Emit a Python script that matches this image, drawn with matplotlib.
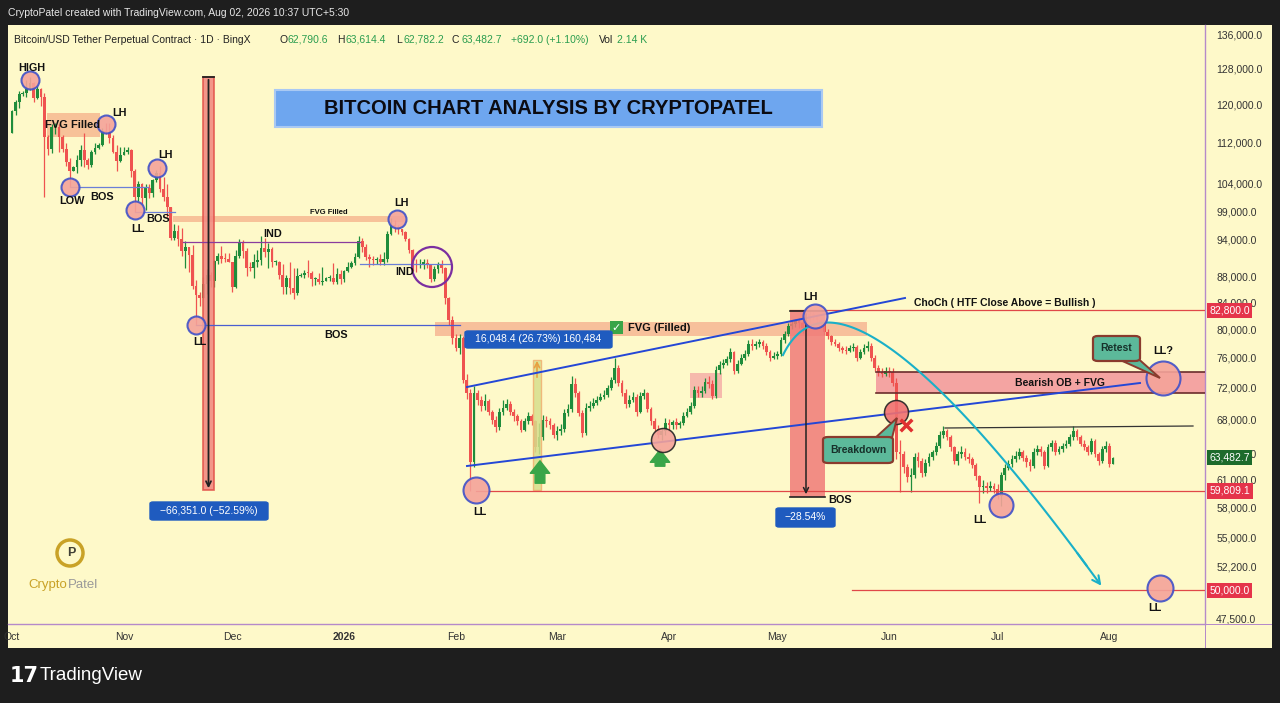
import numpy as np
import pandas as pd
import matplotlib
matplotlib.use('Agg')
import matplotlib.pyplot as plt
from matplotlib.patches import Rectangle, FancyBboxPatch, Polygon

plt.rcParams['font.family'] = ['Liberation Sans', 'DejaVu Sans']

# ---- data (BTC daily, values in thousands of USD) ----
dates = pd.date_range('2025-10-01', '2026-08-02', freq='D')
first_open_k = 114.0

close_k = [
    # Oct
    118.6, 120.6, 122.3, 122.4, 123.5, 124.8, 121.5, 123.3, 121.7, 113.2, 110.7, 115.2, 115.3, 113.1, 110.8, 108.2,
    106.5, 107.2, 108.6, 110.6, 108.5, 107.6, 110.1, 111.0, 111.6, 114.5, 114.1, 112.9, 110.1, 108.3, 109.6,
    # Nov
    110.1, 110.6, 106.5, 101.5, 103.9, 101.3, 103.3, 102.3, 104.7, 106.0, 103.0, 101.6, 99.7, 94.4, 95.5,
    94.2, 92.2, 92.9, 91.5, 86.6, 85.1, 84.7, 86.8, 88.3, 87.3, 90.5, 91.3, 90.9, 90.8, 90.4,
    # Dec
    86.3, 91.3, 93.5, 92.1, 89.4, 89.3, 90.4, 90.6, 92.7, 92.0, 92.5, 90.3, 90.3, 88.2, 86.4, 87.8,
    86.2, 85.5, 88.1, 88.3, 88.6, 88.5, 87.6, 87.6, 87.2, 87.3, 87.8, 87.8, 87.1, 88.4, 87.6,
    # Jan
    88.9, 89.6, 90.2, 91.1, 93.8, 92.9, 91.2, 90.9, 90.6, 90.9, 90.4, 90.9, 95.1, 96.6, 96.3, 95.9,
    95.4, 94.2, 92.3, 90.1, 89.8, 90.1, 90.2, 89.8, 87.6, 89.2, 89.8, 89.4, 84.6, 81.4, 78.8,
    # Feb
    77.4, 78.8, 73.0, 71.4, 63.0, 71.4, 70.5, 69.7, 70.3, 68.9, 68.0, 67.1, 68.9, 69.5,
    69.9, 68.9, 68.5, 67.9, 66.8, 67.8, 68.5, 67.8, 64.7, 65.9, 68.0, 67.8, 67.4, 66.1,
    # Mar
    66.6, 66.9, 68.8, 69.3, 72.5, 71.3, 68.8, 66.4, 69.5, 69.7, 70.1, 70.5, 70.9, 71.1, 72.0, 73.0,
    74.7, 72.7, 71.4, 70.0, 70.5, 70.8, 69.0, 71.0, 71.3, 69.3, 67.8, 66.9, 66.1, 66.6, 67.6,
    # Apr
    67.3, 67.7, 67.3, 67.6, 68.5, 69.0, 69.7, 71.8, 71.4, 71.6, 72.8, 72.5, 71.0, 74.4, 75.0,
    75.3, 75.8, 76.8, 74.3, 75.2, 76.0, 76.6, 78.0, 77.7, 78.0, 78.2, 77.7, 76.8, 76.0, 76.3,
    # May
    76.6, 78.5, 79.3, 80.5, 80.8, 81.2, 80.9, 80.2, 81.4, 82.3, 82.0, 81.4, 80.8, 79.6, 79.0, 78.2,
    78.0, 77.4, 77.1, 77.0, 77.4, 77.5, 76.0, 76.8, 77.4, 77.7, 76.0, 74.7, 74.1, 73.8, 74.3,
    # Jun
    74.1, 72.6, 64.1, 63.9, 62.4, 61.3, 61.5, 63.6, 63.1, 61.8, 62.9, 63.6, 64.1, 64.9, 66.2,
    66.6, 65.9, 64.7, 63.1, 63.9, 64.2, 63.6, 63.4, 62.7, 61.4, 60.2, 60.3, 60.1, 60.3, 60.0,
    # Jul
    59.3, 61.5, 62.3, 62.8, 63.4, 63.7, 64.2, 63.5, 63.0, 62.6, 64.2, 64.5, 64.1, 62.6, 64.7, 65.2,
    64.2, 64.5, 64.8, 65.1, 65.9, 66.6, 65.9, 65.1, 64.7, 64.2, 65.4, 63.9, 63.1, 64.5, 64.9,
    # Aug
    62.7906, 63.4827,
]

high_k = [
    118.9, 121.0, 122.9, 122.9, 125.3, 126.2, 124.9, 124.0, 123.7, 122.5, 113.5, 115.8, 116.0, 115.9, 113.6, 111.9,
    109.0, 107.5, 109.5, 111.6, 114.0, 109.0, 110.5, 112.0, 111.9, 115.0, 116.1, 116.0, 113.6, 111.6, 111.1,
    111.2, 111.2, 110.8, 106.8, 104.5, 104.2, 104.0, 103.9, 105.0, 106.6, 107.5, 105.3, 104.0, 99.8, 96.8,
    96.6, 96.0, 93.8, 92.9, 93.1, 87.5, 85.6, 88.0, 89.2, 88.8, 90.6, 91.9, 93.0, 91.9, 91.9,
    90.4, 92.3, 94.1, 94.0, 92.7, 90.3, 91.7, 92.3, 94.6, 94.4, 93.5, 92.8, 90.6, 90.5, 90.0, 88.2,
    90.3, 89.4, 89.4, 88.6, 89.1, 90.6, 88.9, 88.0, 88.5, 89.5, 88.0, 88.2, 90.2, 89.3, 89.1,
    89.0, 90.3, 90.5, 91.8, 94.6, 94.3, 93.3, 91.7, 91.4, 91.2, 91.6, 92.0, 95.6, 97.8, 97.4, 96.6,
    95.9, 95.6, 94.3, 92.5, 90.9, 90.9, 90.8, 90.9, 89.9, 89.7, 90.4, 90.6, 89.6, 84.9, 81.9,
    79.4, 79.3, 79.0, 73.8, 71.9, 72.2, 71.8, 71.0, 71.2, 70.6, 69.2, 68.4, 69.4, 70.4,
    70.6, 70.3, 69.3, 68.7, 68.1, 68.2, 69.0, 68.7, 68.0, 67.6, 68.6, 68.5, 68.2, 67.6,
    67.2, 67.5, 69.3, 70.0, 73.6, 73.3, 71.6, 69.2, 70.1, 70.3, 70.7, 71.0, 71.3, 71.7, 72.4, 73.4,
    76.0, 75.0, 73.0, 71.9, 71.1, 71.5, 71.2, 71.5, 71.9, 71.5, 69.6, 68.2, 67.4, 67.0, 68.2,
    68.1, 68.0, 68.2, 67.9, 68.9, 69.4, 70.2, 72.3, 72.3, 72.2, 73.3, 73.6, 73.0, 74.9, 75.6,
    75.9, 76.3, 77.4, 77.0, 75.7, 76.5, 77.1, 78.5, 78.6, 78.3, 78.7, 78.5, 78.1, 77.1, 76.8,
    77.0, 78.9, 79.8, 80.9, 81.4, 81.6, 81.7, 81.2, 81.8, 82.8, 82.6, 82.3, 81.6, 81.0, 80.0, 79.2,
    78.6, 78.2, 77.7, 77.6, 77.8, 78.1, 77.8, 77.2, 77.9, 78.3, 78.1, 76.4, 75.0, 74.6, 74.8,
    74.8, 74.6, 73.3, 65.5, 64.3, 62.8, 62.3, 64.0, 64.2, 63.5, 63.3, 64.0, 64.4, 65.3, 66.6,
    67.2, 66.9, 66.2, 64.9, 64.3, 64.9, 64.6, 64.0, 63.6, 62.9, 61.6, 61.0, 60.8, 60.9, 60.7,
    60.6, 61.9, 62.8, 63.2, 63.8, 64.3, 64.6, 64.4, 63.8, 63.3, 64.6, 65.0, 64.8, 64.4, 65.1, 65.6,
    65.6, 64.9, 65.2, 65.5, 66.3, 67.2, 66.9, 66.2, 65.5, 65.0, 65.8, 65.7, 64.2, 64.9, 65.4,
    65.2, 63.6144,
]

low_k = [
    113.9, 117.7, 119.3, 121.9, 121.6, 123.1, 120.6, 121.1, 119.6, 101.5, 109.6, 110.0, 113.8, 110.2, 110.2, 107.5,
    103.5, 106.4, 106.1, 107.5, 107.3, 106.9, 107.3, 109.7, 110.7, 111.3, 113.8, 112.0, 109.9, 106.4, 108.2,
    109.5, 109.8, 105.3, 98.9, 100.8, 100.3, 99.3, 101.4, 101.5, 104.3, 102.5, 100.8, 98.0, 94.0, 94.0,
    93.0, 91.3, 89.3, 88.7, 86.1, 80.6, 83.5, 84.7, 85.3, 86.3, 86.3, 90.1, 90.2, 90.3, 90.3,
    85.6, 86.2, 91.0, 91.0, 88.1, 88.9, 87.7, 89.6, 89.9, 91.1, 89.3, 89.5, 89.8, 87.6, 85.3, 85.3,
    85.3, 84.5, 85.1, 88.0, 87.7, 87.9, 86.6, 86.7, 86.9, 86.7, 87.4, 87.3, 86.9, 86.8, 86.9,
    87.2, 88.7, 89.4, 89.9, 91.0, 92.0, 90.6, 89.6, 89.9, 90.1, 89.8, 89.9, 90.4, 94.8, 95.4, 95.1,
    94.9, 93.8, 91.9, 88.9, 88.7, 89.3, 89.2, 89.3, 87.1, 87.3, 88.5, 88.6, 83.8, 80.6, 77.9,
    76.9, 76.6, 72.6, 70.6, 59.8, 62.5, 69.8, 69.1, 69.2, 68.6, 67.5, 66.5, 66.7, 68.6,
    69.2, 68.6, 67.9, 67.4, 66.5, 66.6, 67.5, 67.3, 64.1, 63.9, 65.6, 67.1, 66.9, 65.8,
    65.6, 66.2, 66.5, 68.4, 68.9, 70.8, 68.4, 65.9, 66.1, 69.1, 69.4, 69.8, 70.3, 70.6, 70.8, 71.8,
    72.7, 72.3, 71.0, 69.5, 69.6, 70.2, 68.5, 68.8, 70.6, 69.0, 67.3, 66.4, 65.8, 65.6, 66.2,
    66.6, 66.9, 66.9, 67.0, 67.4, 68.3, 68.7, 69.4, 70.8, 70.9, 71.3, 72.0, 70.6, 70.7, 73.9,
    74.6, 75.0, 75.4, 73.8, 74.0, 75.0, 75.7, 76.3, 77.1, 77.2, 77.5, 77.3, 76.4, 75.6, 75.8,
    75.9, 76.3, 78.1, 79.0, 80.1, 80.4, 80.2, 79.5, 79.8, 80.9, 81.4, 81.0, 80.3, 79.2, 78.6, 77.8,
    77.6, 77.0, 76.7, 76.6, 76.8, 77.0, 75.6, 75.8, 76.5, 77.0, 75.6, 74.2, 73.6, 73.4, 73.6,
    73.5, 72.2, 63.4, 59.7, 61.8, 60.8, 59.7, 61.2, 62.5, 61.3, 61.4, 62.6, 63.2, 63.8, 64.6,
    65.8, 65.6, 64.3, 62.8, 62.7, 63.5, 63.2, 62.9, 62.3, 61.0, 58.5, 59.6, 59.6, 59.8, 59.6,
    58.9, 58.2, 61.0, 62.1, 62.5, 63.0, 63.4, 63.1, 62.5, 62.0, 62.3, 63.8, 63.7, 62.2, 62.4, 64.3,
    63.8, 63.9, 64.2, 64.6, 64.8, 65.5, 65.6, 64.8, 64.4, 63.8, 63.9, 63.6, 62.7, 62.9, 64.1,
    62.5, 62.7822,
]

month_starts = ['2025-10-01', '2025-11-01', '2025-12-01', '2026-01-01', '2026-02-01', '2026-03-01',
                '2026-04-01', '2026-05-01', '2026-06-01', '2026-07-01', '2026-08-01']
month_labels = ['Oct', 'Nov', 'Dec', '2026', 'Feb', 'Mar', 'Apr', 'May', 'Jun', 'Jul', 'Aug']
price_ticks = [136000, 128000, 120000, 112000, 104000, 99000, 94000, 88000, 84000, 80000,
               76000, 72000, 68000, 64000, 61000, 58000, 55000, 52200, 47500]
level_lines = {'82,800.0': 82800, '59,809.1': 59809.1, '50,000.0': 50000}

GREEN = '#1f8c3b'
RED = '#ef5350'
BG = '#fef9c9'
DARK = '#1e1e1e'
BLUE = '#2447d6'

W, H = 1280, 703


# reference pixel -> data helpers for placing the drawings
def X(px):
    return (px - 12) / 3.61


def Y(py):
    return 136000 * np.exp(-(py - 35) / 555)


fig = plt.figure(figsize=(12.8, 7.03), dpi=100)
fig.patch.set_facecolor(DARK)


def frect(x0, y0, x1, y1, **kw):
    fig.add_artist(Rectangle((x0 / W, 1 - y1 / H), (x1 - x0) / W, (y1 - y0) / H,
                             transform=fig.transFigure, **kw))


def fbox(x0, y0, x1, y1, fc, ec, lw=1, pad=3, z=20):
    fig.add_artist(FancyBboxPatch((x0 / W, 1 - y1 / H), (x1 - x0) / W, (y1 - y0) / H,
                                  boxstyle=f'round,pad=0,rounding_size={pad / W}',
                                  transform=fig.transFigure, fc=fc, ec=ec, lw=lw, zorder=z))


def ftext(x, y, s, **kw):
    fig.text(x / W, 1 - y / H, s, **kw)


# chart panel
frect(8, 25, 1272, 648, fc=BG, ec='none', zorder=0)

ax = fig.add_axes([8 / W, 1 - 624 / H, (1205 - 8) / W, (624 - 25) / H])
ax.set_facecolor(BG)
ax.set_yscale('log')
ax.set_ylim(Y(624), Y(25))
ax.set_xlim(X(8), X(1205))

# candles
closes = np.array(close_k) * 1000
highs = np.array(high_k) * 1000
lows = np.array(low_k) * 1000
opens = np.concatenate([[first_open_k * 1000], closes[:-1]])
highs = np.maximum(highs, np.maximum(opens, closes))
lows = np.minimum(lows, np.minimum(opens, closes))
idx = np.arange(len(closes))
col = np.where(closes >= opens, GREEN, RED)
ax.vlines(idx, lows, highs, colors=col, lw=0.9, zorder=3)
body_lo = np.minimum(opens, closes)
body_h = np.maximum(np.abs(closes - opens), closes * 0.002)
ax.bar(idx, body_h, bottom=body_lo, width=0.76, color=col, zorder=3)

# axes styling
ax.yaxis.tick_right()
ax.set_yticks(price_ticks)
ax.set_yticklabels([f'{p:,.1f}' for p in price_ticks])
ax.yaxis.set_minor_locator(matplotlib.ticker.NullLocator())
ax.tick_params(axis='y', length=0, pad=8, labelsize=7.5, labelcolor='#333333')
tick_pos = [dates.get_loc(pd.Timestamp(m)) for m in month_starts]
ax.set_xticks(tick_pos)
ax.set_xticklabels(month_labels)
ax.tick_params(axis='x', length=0, pad=6, labelsize=7.5, labelcolor='#333333')
ax.get_xticklabels()[3].set_fontweight('bold')
for s in ['top', 'left']:
    ax.spines[s].set_visible(False)
for s in ['right', 'bottom']:
    ax.spines[s].set_color('#b58ac9')
    ax.spines[s].set_linewidth(1)
frect(1204.5, 624, 1205.5, 648, fc='#b58ac9', ec='none', zorder=5)
frect(1205, 623.5, 1272, 624.5, fc='#b58ac9', ec='none', zorder=5)


def circ(px, py, r, fc='#f4a39a', ec='#3f51c9', lw=1.5, alpha=0.9, z=7):
    ax.scatter([X(px)], [Y(py)], s=(2 * r * 0.72) ** 2, fc=fc, ec=ec, lw=lw, alpha=alpha, zorder=z)


def lbl(px, py, s, fs=7.5, **kw):
    ax.text(X(px), Y(py), s, ha='center', va='center', fontsize=fs, fontweight='bold',
            color='#111111', zorder=9, **kw)


def hline(y, x0, x1, **kw):
    ax.plot([X(x0), X(x1)], [Y(y), Y(y)], **kw)


def band(x0, x1, y0, y1, **kw):
    ax.add_patch(Rectangle((X(x0), Y(y1)), X(x1) - X(x0), Y(y0) - Y(y1), **kw))


# zones / bands
band(47, 100, 113, 137, fc='#f5b08a', ec='none', alpha=0.75, zorder=2)
band(173, 405, 216, 222, fc='#f5b08a', ec='none', alpha=0.75, zorder=2)
band(435, 867, 322, 336, fc='#f5ad8c', ec='none', alpha=0.75, zorder=2)
band(690, 722, 373, 398, fc='#f4a0a0', ec='none', alpha=0.7, zorder=2)
band(876, 1205, 372, 393, fc='#f4a0a0', ec='none', alpha=0.95, zorder=2)
hline(372, 876, 1205, color='#6b2c2c', lw=1.2, zorder=4)
hline(393, 876, 1205, color='#6b2c2c', lw=1.2, zorder=4)

# measure bar Oct high -> Feb low
band(203, 214, 77, 490, fc='#f28b82', ec='#e3534b', lw=1.2, alpha=0.9, zorder=4)
ax.annotate('', xy=(X(208.5), Y(491)), xytext=(X(208.5), Y(77)),
            arrowprops=dict(arrowstyle='->', color='#222222', lw=1.3, mutation_scale=9), zorder=5)
hline(77, 203, 214, color='#222222', lw=1.3, zorder=5)

# measure bar Feb bounce
band(533, 541, 360, 490, fc='#d6df8c', ec='#f0b070', lw=1, alpha=0.85, zorder=4)
ax.annotate('', xy=(X(537), Y(358)), xytext=(X(537), Y(380)),
            arrowprops=dict(arrowstyle='->', color='#e8a040', lw=1.2, mutation_scale=9), zorder=5)

# May -> Jun drop box
band(790, 825, 311, 497, fc='#f07a78', ec='none', alpha=0.85, zorder=4)
hline(311, 790, 825, color='#222222', lw=1.2, zorder=5)
hline(497, 790, 825, color='#222222', lw=1.2, zorder=5)
ax.annotate('', xy=(X(806), Y(497)), xytext=(X(806), Y(311)),
            arrowprops=dict(arrowstyle='->', color='#222222', lw=1.1, mutation_scale=9), zorder=6)

# structure lines
hline(187, 70, 148, color='#6b7fd7', lw=0.9, zorder=4)
hline(212, 135, 175, color='#6b7fd7', lw=0.9, zorder=4)
hline(242, 183, 360, color='#8a3c9e', lw=0.9, zorder=4)
hline(264, 360, 450, color='#6b7fd7', lw=0.9, zorder=4)
hline(325, 196, 460, color='#4a5fd0', lw=0.9, zorder=4)
for name, lvl in level_lines.items():
    x0 = {'82,800.0': 790, '59,809.1': 476, '50,000.0': 852}[name]
    ax.plot([X(x0), X(1205)], [lvl, lvl], color='#e04848', lw=0.9, zorder=4)
ax.plot([X(945), X(1193)], [Y(428), Y(426)], color='#333333', lw=0.9, zorder=4)

# channel
ax.plot([X(467), X(905)], [Y(387), Y(298)], color=BLUE, lw=1.4, zorder=5)
ax.plot([X(467), X(1140)], [Y(466), Y(383)], color=BLUE, lw=1.4, zorder=5)

# projected path (cyan)
t = np.linspace(0, 1, 120)
bx = (1 - t) ** 3 * 783 + 3 * (1 - t) ** 2 * t * 810 + 3 * (1 - t) * t ** 2 * 880 + t ** 3 * 1103
by = (1 - t) ** 3 * 355 + 3 * (1 - t) ** 2 * t * 300 + 3 * (1 - t) * t ** 2 * 280 + t ** 3 * 588
ax.plot(X(bx[:-3]), Y(by[:-3]), color='#1ab0c8', lw=1.5, zorder=6)
ax.annotate('', xy=(X(bx[-1]), Y(by[-1])), xytext=(X(bx[-6]), Y(by[-6])),
            arrowprops=dict(arrowstyle='->', color='#1ab0c8', lw=1.5, mutation_scale=14), zorder=6)

# green arrows
for tip, base in [((540, 458), (540, 486)), ((660, 447), (660, 469))]:
    ax.annotate('', xy=(X(tip[0]), Y(tip[1])), xytext=(X(base[0]), Y(base[1])),
                arrowprops=dict(arrowstyle='simple,head_width=1.4,head_length=0.9,tail_width=0.7',
                                color='#3aa548', mutation_scale=10), zorder=7)

# circles
for px, py, r in [(30, 80, 9), (106, 124, 9), (70, 187, 9), (157, 168, 9), (135, 210, 9),
                  (196, 325, 9), (397, 219, 9), (476, 490, 13), (815, 316, 12), (1001, 505, 12),
                  (1160, 588, 13), (1163, 378, 17)]:
    circ(px, py, r)
circ(663, 440, 12, fc='#f4a39a', ec='#222222', lw=1.1)
circ(896, 412, 12, fc='#f07070', ec='#222222', lw=1.1)
ax.scatter([X(432)], [Y(267)], s=(40 * 0.72) ** 2, fc='none', ec='#7b2fa0', lw=1.6, zorder=7)
ax.scatter([X(906)], [Y(425)], s=70, marker='x', color='#e03030', lw=2.5, zorder=8)

# labels
for px, py, s in [(32, 68, 'HIGH'), (119, 113, 'LH'), (72, 201, 'LOW'), (102, 197, 'BOS'),
                  (165, 155, 'LH'), (138, 229, 'LL'), (158, 219, 'BOS'), (273, 234, 'IND'),
                  (200, 342, 'LL'), (336, 335, 'BOS'), (401, 203, 'LH'), (405, 272, 'IND'),
                  (480, 512, 'LL'), (810, 297, 'LH'), (840, 500, 'BOS'), (980, 520, 'LL'),
                  (1155, 608, 'LL'), (1163, 351, 'LL?')]:
    lbl(px, py, s, fs=7.8)
lbl(73, 125, 'FVG Filled', fs=8)
lbl(329, 213, 'FVG Filled', fs=5.5)
lbl(1005, 303, 'ChoCh ( HTF Close Above = Bullish )', fs=7.5)
lbl(1060, 383, 'Bearish OB + FVG', fs=7.5)

# check label for FVG band
frect(610, 321, 623, 334, fc='#3aa548', ec='none', zorder=20)
ftext(616.5, 328, '\u2713', ha='center', va='center', color='white', fontsize=8,
      fontweight='bold', family='DejaVu Sans', zorder=21)
ftext(628, 328, 'FVG (Filled)', ha='left', va='center', color='#111111', fontsize=8,
      fontweight='bold', zorder=21)

# measure labels
fbox(465, 331, 612, 348, fc='#1f5bbf', ec='#1f5bbf', pad=3)
ftext(538.5, 339.5, '16,048.4 (26.73%) 160,484', ha='center', va='center', color='white',
      fontsize=7.5, zorder=21)
fbox(150, 502, 268, 520, fc='#1f5bbf', ec='#1f5bbf', pad=3)
ftext(209, 511, '\u221266,351.0 (\u221252.59%)', ha='center', va='center', color='white',
      fontsize=7.5, zorder=21)
fbox(776, 508, 835, 527, fc='#1f5bbf', ec='#1f5bbf', pad=3)
ftext(805.5, 517.5, '\u221228.54%', ha='center', va='center', color='white', fontsize=7.5, zorder=21)

# speech bubbles
fig.add_artist(Polygon([(1118 / W, 1 - 359 / H), (1134 / W, 1 - 355 / H), (1160 / W, 1 - 378 / H)],
                       closed=True, transform=fig.transFigure, fc='#5cb99a', ec='#8a3b2e', lw=1.4, zorder=19))
fbox(1093, 336, 1140, 361, fc='#5cb99a', ec='#8a3b2e', lw=1.6, pad=5)
ftext(1116.5, 348.5, 'Retest', ha='center', va='center', color='#17302a', fontsize=7.5,
      fontweight='bold', zorder=21)
fig.add_artist(Polygon([(874 / W, 1 - 439 / H), (890 / W, 1 - 446 / H), (897 / W, 1 - 418 / H)],
                       closed=True, transform=fig.transFigure, fc='#5cb99a', ec='#8a3b2e', lw=1.4, zorder=19))
fbox(823, 437, 893, 463, fc='#5cb99a', ec='#8a3b2e', lw=1.6, pad=5)
ftext(858, 450, 'Breakdown', ha='center', va='center', color='#17302a', fontsize=7.5,
      fontweight='bold', zorder=21)

# title box
frect(275, 90, 822, 127, fc='#6ea6ef', ec='#a9c9f3', lw=1.5, zorder=20)
ftext(548.5, 109, 'BITCOIN CHART ANALYSIS BY CRYPTOPATEL', ha='center', va='center',
      fontsize=14.5, fontweight='bold', color='#0b0b12', zorder=21)

# price tags on the axis
tags = [(82800, '82,800.0', '#e5344a'), (closes[-1], f'{closes[-1]:,.1f}', '#1d6b2c'),
        (59809.1, '59,809.1', '#e5344a'), (50000, '50,000.0', '#e5344a')]
for p, s, c in tags:
    ax.text(1.0035, p, s, transform=ax.get_yaxis_transform(), ha='left', va='center',
            fontsize=7.5, color='white', zorder=30, clip_on=False,
            bbox=dict(boxstyle='square,pad=0.25', fc=c, ec='none'))

# header line
hdr_dark = '#222222'
hdr_green = '#2a9d4f'
ftext(14, 40, 'Bitcoin/USD Tether Perpetual Contract \u00b7 1D \u00b7 BingX', ha='left', va='center',
      fontsize=7.5, color=hdr_dark)
for x, s, c in [(279, 'O', hdr_dark), (288, '62,790.6', hdr_green), (337, 'H', hdr_dark),
                (346, '63,614.4', hdr_green), (396, 'L', hdr_dark), (403, '62,782.2', hdr_green),
                (452, 'C', hdr_dark), (461, '63,482.7', hdr_green), (511, '+692.0 (+1.10%)', hdr_green),
                (599, 'Vol', hdr_dark), (617, '2.14 K', hdr_green)]:
    ftext(x, 40, s, ha='left', va='center', fontsize=7.5, color=c)

# top bar and footer
ftext(8, 13, 'CryptoPatel created with TradingView.com, Aug 02, 2026 10:37 UTC+5:30', ha='left',
      va='center', fontsize=7.5, color='#e8e8e8')
ftext(10, 676, '17', ha='left', va='center', fontsize=15, fontweight='bold', color='white',
      family='DejaVu Sans')
ftext(40, 676, 'TradingView', ha='left', va='center', fontsize=13.5, color='white')

# watermark logo
ax.scatter([X(70)], [Y(553)], s=(26 * 0.72) ** 2, fc='none', ec='#c9a227', lw=2.5, zorder=2)
lbl(71, 553, 'P', fs=9, alpha=0.8)
ftext(28, 585, 'Crypto', ha='left', va='center', fontsize=9.5, color='#c9a227')
ftext(68, 585, 'Patel', ha='left', va='center', fontsize=9.5, color='#9a9a9a')

fig.savefig('out.png', dpi=100, facecolor=fig.get_facecolor())
